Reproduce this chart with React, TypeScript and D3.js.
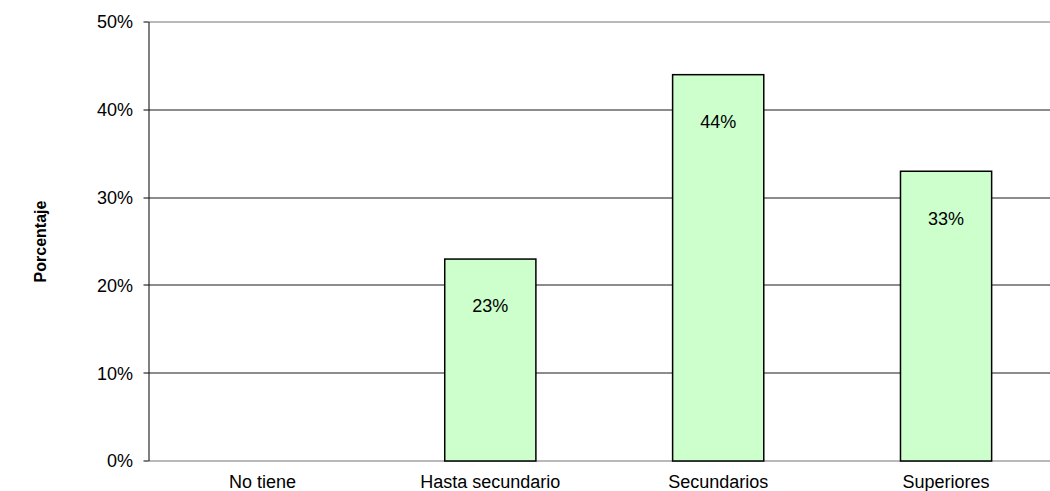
import React from "react";
import * as d3 from "d3";

const categories = ["No tiene", "Hasta secundario", "Secundarios", "Superiores"];
const values = [0, 23, 44, 33];
const yTicks = [0, 10, 20, 30, 40, 50];

const W = 1050;
const H = 491;
const left = 148.5;
const right = 1060;
const top = 22;
const bottom = 461;

export default function App() {
  const x = d3.scaleBand<string>().domain(categories).range([left, right]).paddingInner(0.6).paddingOuter(0.3);
  const y = d3.scaleLinear().domain([0, 50]).range([bottom, top]);
  const font = "Arial, 'Liberation Sans', sans-serif";
  return (
    <svg width={W} height={H} style={{ position: "absolute", left: 0, top: 0 }} fontFamily={font}>
      <rect x={0} y={0} width={W} height={H} fill="#fff" />
      {yTicks.map((t) => (
        <g key={t}>
          <line x1={left} x2={W} y1={Math.round(y(t))} y2={Math.round(y(t))} stroke="#000" strokeWidth={1} strokeOpacity={t === 0 || t === 50 ? 0.55 : 0.9} />
          <line x1={left - 5} x2={left} y1={Math.round(y(t))} y2={Math.round(y(t))} stroke="#000" strokeWidth={1} />
          <text x={133} y={y(t)} dy="0.35em" textAnchor="end" fontSize={18} fill="#000">{t}%</text>
        </g>
      ))}
      <line x1={left + 0.5} x2={left + 0.5} y1={top} y2={bottom} stroke="#000" strokeWidth={1} />
      {categories.map((c, i) => {
        const v = values[i];
        const bx = x(c)!;
        const bw = x.bandwidth();
        return (
          <g key={c}>
            {v > 0 && (
              <>
                <rect x={bx} y={y(v)} width={bw} height={bottom - y(v)} fill="#CCFFCC" stroke="#000" strokeWidth={1.5} />
                <text x={bx + bw / 2} y={y(v) + 47} dy="0.35em" textAnchor="middle" fontSize={18} fill="#000">{v}%</text>
              </>
            )}
            <text x={bx + bw / 2} y={482} dy="0.35em" textAnchor="middle" fontSize={18} fill="#000">{c}</text>
          </g>
        );
      })}
      <text transform={`translate(46,${(top + bottom) / 2}) rotate(-90)`} textAnchor="middle" fontSize={16} fontWeight="bold" fill="#000">Porcentaje</text>
    </svg>
  );
}
